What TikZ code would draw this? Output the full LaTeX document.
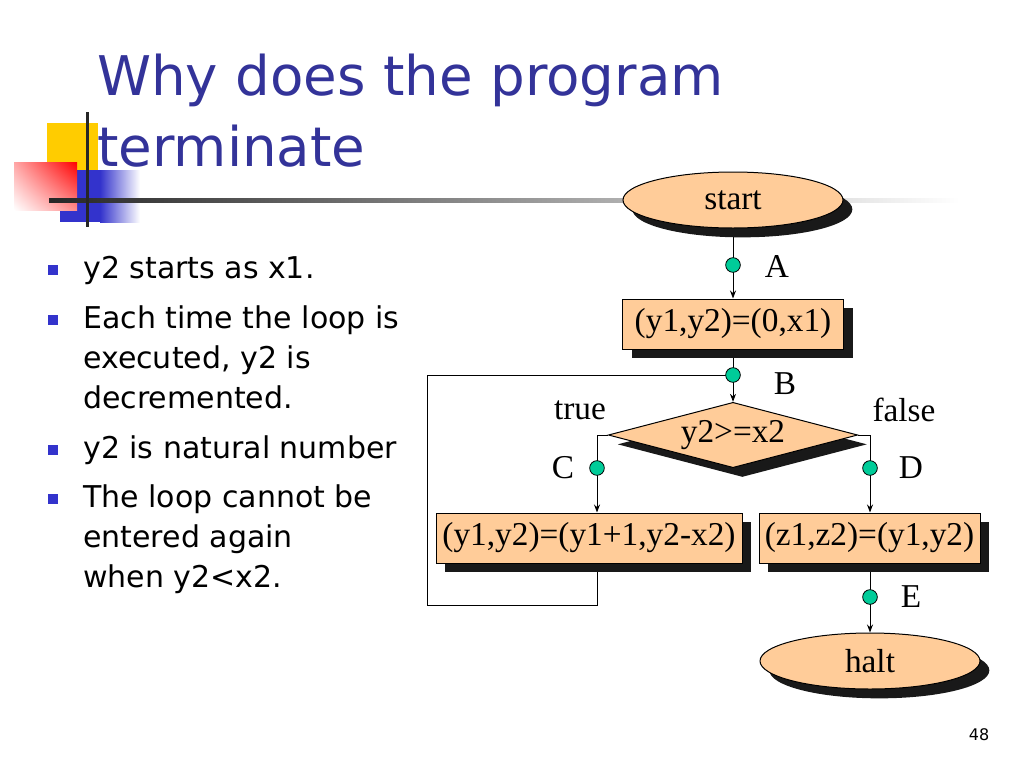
\documentclass[tikz,border=0pt]{standalone}
\usepackage{fontspec}
\setmainfont{Liberation Serif}
\newfontfamily\sansf{DejaVu Sans}
\usetikzlibrary{shapes.geometric,shadows,shadings,arrows.meta}
\definecolor{peach}{RGB}{255,204,153}
\definecolor{dotteal}{RGB}{0,204,153}
\definecolor{titleblue}{RGB}{51,51,153}
\definecolor{bulletblue}{RGB}{51,51,204}
\definecolor{decoyellow}{RGB}{255,204,0}
\pgfdeclarelayer{bg}
\pgfsetlayers{bg,main}
\begin{document}
\begin{tikzpicture}[x=0.75pt,y=-0.75pt,
  shadowed/.style={drop shadow={shadow xshift=7pt,shadow yshift=-7pt,fill=black!90,opacity=1}},
  fcfont/.style={font=\fontsize{25}{30}\selectfont},
  term/.style={ellipse,draw,line width=0.75pt,fill=peach,minimum width=165pt,minimum height=42pt,inner sep=0pt,shadowed,fcfont},
  proc/.style={rectangle,draw,line width=0.75pt,fill=peach,minimum height=37.5pt,inner sep=2pt,shadowed,fcfont},
  decis/.style={diamond,aspect=3.8,draw,line width=0.75pt,fill=peach,minimum width=187pt,minimum height=49pt,inner sep=0pt,shadowed,fcfont},
  tdot/.style={circle,draw,line width=0.6pt,fill=dotteal,minimum size=11pt,inner sep=0pt},
  lbl/.style={fcfont,inner sep=0pt},
  flow/.style={line width=0.75pt,-{Stealth[length=6pt,width=4.5pt]}},
  conn/.style={line width=0.75pt},
  bul/.style={rectangle,fill=bulletblue,minimum size=7.5pt,inner sep=0pt},
  body/.style={anchor=base west,inner sep=0pt,font=\sansf\fontsize{22.5}{30}\selectfont},
  ttl/.style={anchor=base west,inner sep=0pt,text=titleblue,font=\sansf\fontsize{41}{49}\selectfont}
]
\useasboundingbox (0,0) rectangle (1024,768);

% decoration
\fill[decoyellow] (47,123) rectangle (98,175);
\fill[bulletblue] (60,170) rectangle (100,222);
\shade[left color=bulletblue,right color=white] (100,170) rectangle (140,222);
\shade[upper right=red,upper left=red!35!white,lower right=red!45!white,lower left=white] (14,162) rectangle (77,210);
\shade[left color=black!85,middle color=black!35,right color=white] (49,198) rectangle (960,202);
\fill[black!85] (85.5,112) rectangle (88.5,227);

% title
\node[ttl] (t1) at (97,95) {Why does the program};
\node[ttl] (t2) at (97,166) {terminate};

% bullets
\node[bul] (m1) at (53,270) {};
\node[body] (b1) at (83,278) {y2 starts as x1.};
\node[bul] (m2) at (53,320) {};
\node[body] (b2a) at (83,328) {Each time the loop is};
\node[body] (b2b) at (83,368) {executed, y2 is};
\node[body] (b2c) at (83,408) {decremented.};
\node[bul] (m3) at (53,450) {};
\node[body] (b3) at (83,458) {y2 is natural number};
\node[bul] (m4) at (53,499) {};
\node[body] (b4a) at (83,507) {The loop cannot be};
\node[body] (b4b) at (83,547) {entered again};
\node[body] (b4c) at (83,587) {when y2<x2.};

% flowchart nodes
\node[term] (start) at (733,200) {start};
\node[tdot] (A) at (733,265) {};
\node[proc,minimum width=165.75pt] (box1) at (733,324) {(y1,y2)=(0,x1)};
\node[tdot] (B) at (733,375) {};
\node[decis] (dia) at (733,435) {y2>=x2};
\node[tdot] (C) at (597,468) {};
\node[tdot] (D) at (870,468) {};
\node[proc,minimum width=229.5pt] (box2) at (589,538) {(y1,y2)=(y1+1,y2-x2)};
\node[proc,minimum width=165.75pt] (box3) at (869.5,538) {(z1,z2)=(y1,y2)};
\node[tdot] (E) at (870,597) {};
\node[term] (halt) at (870,661) {halt};
\coordinate (L1) at (427,605);

% labels
\node[lbl] (lA) at (777,266) {A};
\node[lbl] (lB) at (785,384) {B};
\node[lbl] (ltrue) at (580,410) {true};
\node[lbl] (lfalse) at (904,410) {false};
\node[lbl] (lC) at (563,468) {C};
\node[lbl] (lD) at (911,468) {D};
\node[lbl] (lE) at (911,597) {E};

\node[font=\sansf\fontsize{12}{14}\selectfont,inner sep=0pt] (pg) at (979,735) {48};

% connectors
\begin{pgfonlayer}{bg}
\draw[flow] (start.south) -- (box1.north);
\draw[flow] (box1.south) -- (dia.north);
\draw[conn] (B.center) -| (L1) -| (box2.south -| C);
\draw[flow] (dia.west) -| (box2.north -| C);
\draw[flow] (dia.east) -| (box3.north -| D);
\draw[flow] (box3.south -| E) -- (halt.north -| E);
\end{pgfonlayer}
\end{tikzpicture}
\end{document}
